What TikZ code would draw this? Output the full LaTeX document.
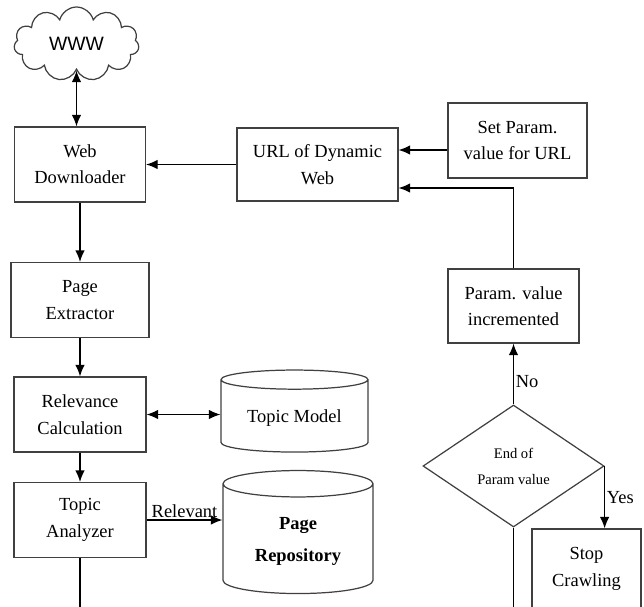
\documentclass[tikz,border=0pt]{standalone}
\usepackage{fontspec}
\setmainfont{Liberation Serif}
\newfontfamily\wwwfont{Liberation Sans}
\usetikzlibrary{arrows,arrows.meta}
\usetikzlibrary{positioning,shapes.geometric,shapes.symbols}

\tikzset{
  box/.style={draw=black!75, line width=0.7pt, align=center, minimum height=1.5cm,
    font=\fontsize{10.5}{15}\selectfont},
  db/.style={cylinder, shape border rotate=90, draw=black!75, line width=0.7pt, align=center,
    font=\fontsize{10.5}{15}\selectfont},
  decision/.style={diamond, draw=black!75, line width=0.7pt, align=center, inner sep=0pt,
    aspect=1.48, minimum width=3.62cm, minimum height=2.44cm,
    font=\fontsize{8.3}{14.8}\selectfont},
  lbl/.style={inner sep=1pt, font=\fontsize{10.5}{12}\selectfont},
}

\begin{document}
\begin{tikzpicture}[>={Latex[length=2.3mm,width=1.9mm]}, line width=0.7pt, node distance=2cm]
\clip (0,0) rectangle (12.88,-12.12);
\node (www) [cloud, cloud puffs=11, aspect=1.7, draw=black!75, minimum width=2.5cm, minimum height=1.48cm,
  inner sep=0pt, font=\wwwfont\fontsize{11}{12}\selectfont] at (1.53,-0.88) {WWW};
\node (web) [box, minimum width=2.62cm] at (1.6,-3.29) {Web\\Downloader};
\node (url) [box, minimum width=3.22cm, minimum height=1.46cm, node distance=4.75cm, right of=web] {URL of Dynamic\\Web};
\node (setp) [box, minimum width=2.78cm] at (10.35,-2.81) {Set Param.\\value for URL};
\node (pe) [box, minimum width=2.76cm, node distance=2.71cm, below of=web] {Page\\Extractor};
\node (rel) [box, minimum width=2.64cm, node distance=2.29cm, below of=pe] {Relevance\\Calculation};
\node (ana) [box, minimum width=2.64cm, node distance=2.11cm, below of=rel] {Topic\\Analyzer};
\node (tm) [db, aspect=0.18, minimum width=2.94cm, minimum height=1.64cm] at (5.89,-8.36) {Topic Model};
\node (repo) [db, aspect=0.27, minimum width=3.0cm, minimum height=2.46cm,
  font=\fontsize{10.5}{18}\selectfont] at (5.96,-10.83) {\textbf{Page}\\\textbf{Repository}};
\node (pinc) [box, minimum width=2.62cm, minimum height=1.48cm] at (10.27,-6.12) {Param. value\\incremented};
\node (dec) [decision, node distance=3.2cm, below of=pinc] {End of\\Param value};
\node (stop) [box, minimum width=2.18cm, minimum height=1.6cm] at (11.73,-11.38) {Stop\\Crawling};
\coordinate (anaout) at ([yshift=-2cm]ana.south);
\coordinate (decout) at ([yshift=-2cm]dec.south);

\draw[<->] (www.south) -- (www.south |- web.north);
\draw[->] (url) -- (web);
\draw[->] ([yshift=-1.9mm]setp.west) -- ([yshift=-1.9mm]setp.west -| url.east);
\draw[->] (pinc.north) |- ([yshift=-4.7mm]url.east);
\draw[->] (web) -- (pe);
\draw[->] (pe) -- (rel);
\draw[->] (rel) -- (ana);
\draw[<->] (rel.east) -- (rel.east -| tm.west);
\draw[->] (ana.east) -- (ana.east -| repo.west) node [midway, above, lbl] {Relevant};
\draw[->] (dec.north) -- (pinc.south) node [pos=0.37, right, lbl] {No};
\draw[->] (dec.east) -- (dec.east |- stop.north) node [midway, right, lbl] {Yes};
\draw (ana.south) -- (anaout);
\draw (dec.south) -- (decout);
\end{tikzpicture}
\end{document}
